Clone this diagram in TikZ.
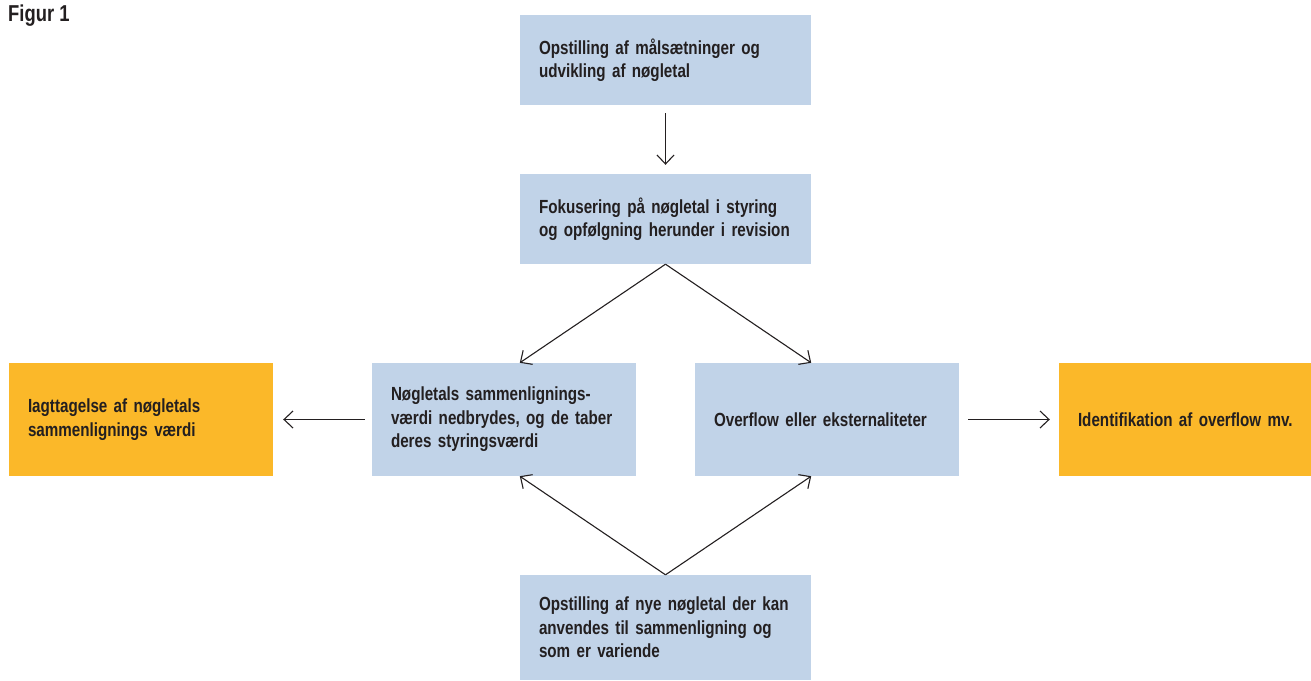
\documentclass[tikz,border=0pt]{standalone}
\usepackage{fontspec}
\setmainfont{Liberation Sans}[FakeStretch=0.8]
\usetikzlibrary{arrows.meta}
\definecolor{blaa}{HTML}{C1D3E8}
\definecolor{gul}{HTML}{FBB829}
\definecolor{tekst}{HTML}{231F20}
\begin{document}
\begin{tikzpicture}[x=1pt, y=-1pt,
            every node/.style = {font=\fontsize{19}{23.5}\selectfont\bfseries, text=tekst},
            boks/.style = {fill=#1, align=left, inner xsep=19pt, inner ysep=0pt},
            pil/.style = {draw=tekst, line width=1.1pt, -{Straight Barb[length=9pt,width=17pt]}}]
            \useasboundingbox (0,0) rectangle (1311,680);
            \node[anchor=base west, inner sep=0pt, font=\fontsize{23}{26}\selectfont\bfseries] (titel) at (8,21) {Figur 1};
            \node[boks=blaa, text width=253pt, minimum height=90pt] (maal) at (665.5,60)
                {Opstilling af målsætninger og\\udvikling af nøgletal};
            \node[boks=blaa, text width=253pt, minimum height=90pt] (fokus) at (665.5,219)
                {Fokusering på nøgletal i styring\\og opfølgning herunder i revision};
            \node[boks=blaa, text width=226pt, minimum height=113pt] (nedbryd) at (504,419.5)
                {Nøgletals sammenlignings-\\værdi nedbrydes, og de taber\\deres styringsværdi};
            \node[boks=blaa, text width=226pt, minimum height=113pt] (overflow) at (827,419.5)
                {Overflow eller eksternaliteter};
            \node[boks=gul, text width=226pt, minimum height=113pt] (iagttag) at (141,419.5)
                {Iagttagelse af nøgletals\\sammenlignings værdi};
            \node[boks=gul, text width=240pt, minimum height=113pt] (identif) at (1198,419.5)
                {Identifikation af overflow mv.};
            \node[boks=blaa, text width=253pt, minimum height=105pt] (nye) at (665.5,627.5)
                {Opstilling af nye nøgletal der kan\\anvendes til sammenligning og\\som er variende};
            \coordinate (ovV) at (fokus.south west |- nedbryd.north);
            \coordinate (ovH) at (fokus.south east |- overflow.north);
            \coordinate (udV) at (nye.north west |- nedbryd.south);
            \coordinate (udH) at (nye.north east |- overflow.south);
            \draw[pil, shorten <=8pt, shorten >=9pt] (maal) -- (fokus);
            \draw[pil] (fokus.south) -- (ovV);
            \draw[pil] (fokus.south) -- (ovH);
            \draw[pil] (nye.north) -- (udV);
            \draw[pil] (nye.north) -- (udH);
            \draw[pil, shorten <=7pt, shorten >=10pt] (nedbryd) -- (iagttag);
            \draw[pil, shorten <=9pt, shorten >=9pt] (overflow) -- (identif);
        \end{tikzpicture}
\end{document}
